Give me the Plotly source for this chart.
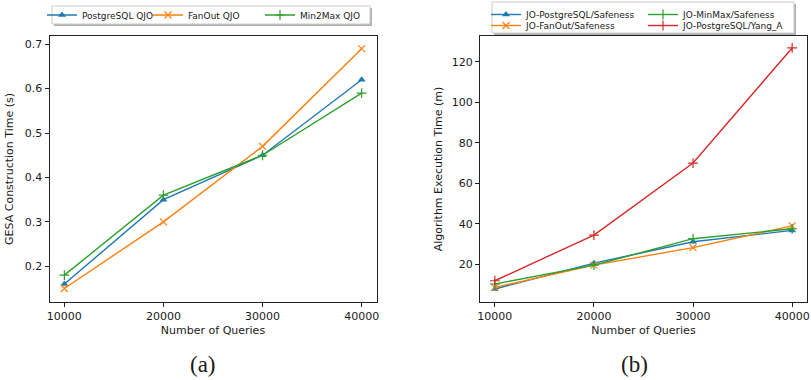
import plotly.graph_objects as go

W, H = 811, 380

# ---------------- data ----------------
queries = [10000, 20000, 30000, 40000]
tick_labels = ["10000", "20000", "30000", "40000"]

# panel (a): GESA construction time (s)
a_names = ["PostgreSQL QJO", "FanOut QJO", "Min2Max QJO"]
a_postgres = [0.16, 0.35, 0.45, 0.62]
a_fanout = [0.15, 0.30, 0.47, 0.69]
a_min2max = [0.18, 0.36, 0.45, 0.59]
a_yticks = [0.2, 0.3, 0.4, 0.5, 0.6, 0.7]

# panel (b): algorithm execution time (m)
b_names = ["JO-PostgreSQL/Safeness", "JO-FanOut/Safeness",
           "JO-MinMax/Safeness", "JO-PostgreSQL/Yang_A"]
b_pg_safe = [7.7, 20.5, 31.1, 36.7]
b_fan_safe = [8.5, 19.5, 28.2, 38.9]
b_minmax_safe = [10.2, 19.5, 32.6, 37.5]
b_pg_yang = [11.8, 34.4, 70.0, 126.9]
b_yticks = [20, 40, 60, 80, 100, 120]

# ---------------- style ----------------
BLUE, ORANGE, GREEN, RED = "#1f77b4", "#ff7f0e", "#2ca02c", "#d62728"
TXT = "#1a1a1a"
FONT = "DejaVu Sans"


def px_x(p):
    return p / W


def px_y(p):
    return 1 - p / H


def trace(x, y, name, color, symbol, xa, ya, legend):
    thin = symbol.endswith("thin")
    return go.Scatter(
        x=x, y=y, name=name, mode="lines+markers",
        line=dict(color=color, width=1.4),
        marker=dict(symbol=symbol, size=7, color=color,
                    line=dict(color=color, width=1.2 if thin else 0)),
        xaxis=xa, yaxis=ya, legend=legend,
    )


fig = go.Figure()
fig.add_trace(trace(queries, a_postgres, a_names[0], BLUE, "triangle-up", "x", "y", "legend"))
fig.add_trace(trace(queries, a_fanout, a_names[1], ORANGE, "x-thin", "x", "y", "legend2"))
fig.add_trace(trace(queries, a_min2max, a_names[2], GREEN, "cross-thin", "x", "y", "legend3"))

fig.add_trace(trace(queries, b_pg_safe, b_names[0], BLUE, "triangle-up", "x2", "y2", "legend4"))
fig.add_trace(trace(queries, b_fan_safe, b_names[1], ORANGE, "x-thin", "x2", "y2", "legend5"))
fig.add_trace(trace(queries, b_minmax_safe, b_names[2], GREEN, "cross-thin", "x2", "y2", "legend6"))
fig.add_trace(trace(queries, b_pg_yang, b_names[3], RED, "cross-thin", "x2", "y2", "legend7"))

axis_common = dict(
    showgrid=False, zeroline=False, showline=True, linecolor="#222",
    linewidth=1, mirror=True, ticks="outside", ticklen=4, tickwidth=1,
    tickcolor="#222", tickfont=dict(family=FONT, size=11, color=TXT),
    automargin=False,
)

y_top, y_bot = 36, 302
fig.update_layout(
    width=W, height=H,
    margin=dict(l=0, r=0, t=0, b=0, autoexpand=False),
    paper_bgcolor="white", plot_bgcolor="white",
    font=dict(family=FONT, size=11, color=TXT),
    xaxis=dict(domain=[px_x(49.5), px_x(376.5)], anchor="y", range=[8500, 41500],
               tickvals=queries, ticktext=tick_labels,
               title=dict(text="Number of Queries", font=dict(size=11), standoff=4),
               **axis_common),
    yaxis=dict(domain=[px_y(y_bot), px_y(y_top)], anchor="x", range=[0.1195, 0.7185],
               tickvals=a_yticks, ticktext=[f"{v:.1f}" for v in a_yticks],
               title=dict(text="GESA Construction Time (s)", font=dict(size=11), standoff=8),
               **axis_common),
    xaxis2=dict(domain=[px_x(480), px_x(807)], anchor="y2", range=[8500, 41500],
                tickvals=queries, ticktext=tick_labels,
                title=dict(text="Number of Queries", font=dict(size=11), standoff=4),
                **axis_common),
    yaxis2=dict(domain=[px_y(y_bot), px_y(y_top)], anchor="x2", range=[1.3, 132.8],
                tickvals=b_yticks, ticktext=[str(v) for v in b_yticks],
                title=dict(text="Algorithm Execution Time (m)", font=dict(size=11), standoff=6),
                **axis_common),
    showlegend=True,
)


def legend_cfg(text_x, top_y):
    return dict(x=px_x(text_x - 44), y=px_y(top_y), xref="paper", yref="paper",
                xanchor="left", yanchor="top", bgcolor="rgba(0,0,0,0)",
                borderwidth=0, font=dict(family=FONT, size=9, color=TXT),
                itemwidth=30, orientation="v")


fig.update_layout(
    legend=legend_cfg(86, 0.5),
    legend2=legend_cfg(192, 0.5),
    legend3=legend_cfg(304, 0.5),
    legend4=legend_cfg(530, 0),
    legend5=legend_cfg(530, 11),
    legend6=legend_cfg(687, 0),
    legend7=legend_cfg(687, 11),
)


def box(x0, y0, x1, y1):
    return [
        dict(type="rect", xref="paper", yref="paper", layer="above",
             x0=px_x(x0 + 2), x1=px_x(x1 + 2), y0=px_y(y1 + 2), y1=px_y(y0 + 2),
             fillcolor="#b0b0b0", line=dict(width=0)),
        dict(type="rect", xref="paper", yref="paper", layer="above",
             x0=px_x(x0), x1=px_x(x1), y0=px_y(y1), y1=px_y(y0),
             fillcolor="white", line=dict(color="#cccccc", width=1)),
    ]


fig.update_layout(shapes=box(52, 6, 370, 24) + box(492, 2, 794, 33))

fig.add_annotation(text="(a)", x=px_x(203), y=px_y(364), xref="paper", yref="paper",
                   showarrow=False, xanchor="center", yanchor="middle",
                   font=dict(family="Liberation Serif", size=23, color=TXT))
fig.add_annotation(text="(b)", x=px_x(634), y=px_y(364), xref="paper", yref="paper",
                   showarrow=False, xanchor="center", yanchor="middle",
                   font=dict(family="Liberation Serif", size=23, color=TXT))

# remove the browser's default 8px page margin so the figure fills the window
fig.write_html("out.html", config={"displayModeBar": False},
               post_script="document.body.style.margin='0px';")
